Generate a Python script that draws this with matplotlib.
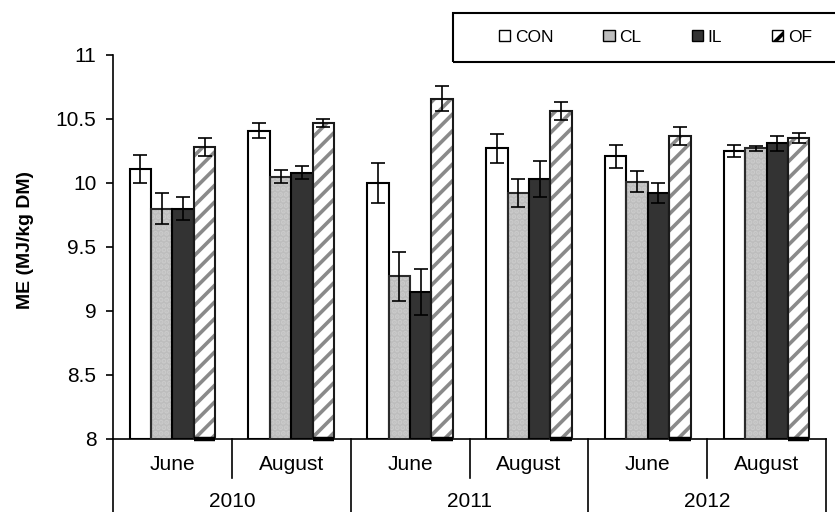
import matplotlib
matplotlib.use("Agg")
import matplotlib.pyplot as plt
from matplotlib.patches import Patch, Rectangle
import numpy as np

plt.rcParams['font.family'] = ['Liberation Sans', 'DejaVu Sans']
plt.rcParams['hatch.linewidth'] = 2.6

months = ['June', 'August', 'June', 'August', 'June', 'August']
years = ['2010', '2011', '2012']
treatments = ['CON', 'CL', 'IL', 'OF']

# ME means and standard errors, per sampling (June/August of each year)
con = [10.11, 10.41, 10.00, 10.27, 10.21, 10.25]
cl = [9.80, 10.05, 9.27, 9.92, 10.01, 10.27]
il = [9.80, 10.08, 9.15, 10.03, 9.92, 10.31]
of = [10.28, 10.47, 10.66, 10.56, 10.37, 10.35]

con_se = [0.11, 0.06, 0.16, 0.11, 0.09, 0.05]
cl_se = [0.12, 0.05, 0.19, 0.11, 0.08, 0.02]
il_se = [0.09, 0.05, 0.18, 0.14, 0.08, 0.06]
of_se = [0.07, 0.03, 0.10, 0.07, 0.07, 0.04]

fig = plt.figure(figsize=(8.35, 5.12), dpi=100)
ax = fig.add_axes([113/835, 1-439/512, 713/835, 384/512])

x = np.arange(len(months))
w = 0.18
base = 8

series = [con, cl, il, of]
errs = [con_se, cl_se, il_se, of_se]
styles = [
    dict(face='white', hatch=None, hcol=None, edge='black'),
    dict(face='#bdbdbd', hatch='...', hcol='#cbcbcb', edge='#2a2a2a'),
    dict(face='#333333', hatch=None, hcol=None, edge='black'),
    dict(face='white', hatch='//', hcol='#8a8a8a', edge='#1a1a1a'),
]

for k, (vals, se, st) in enumerate(zip(series, errs, styles)):
    pos = x + (k - 1.5) * w
    heights = np.array(vals) - base
    if st['hatch']:
        ax.bar(pos, heights, w, bottom=base, color=st['face'],
               edgecolor=st['hcol'], hatch=st['hatch'], linewidth=0, zorder=2)
        ax.bar(pos, heights, w, bottom=base, fill=False,
               edgecolor=st['edge'], linewidth=1.5, zorder=3)
    else:
        ax.bar(pos, heights, w, bottom=base, color=st['face'],
               edgecolor=st['edge'], linewidth=1.5, zorder=3)
    ax.errorbar(pos, vals, yerr=se, fmt='none', ecolor='black',
                elinewidth=1.2, capsize=5, capthick=1.2, zorder=4)
    if k == 3:
        # heavy base under the OF bars
        for p in pos:
            ax.plot([p - w/2, p + w/2], [base, base], color='black',
                    lw=3.2, solid_capstyle='butt', clip_on=False, zorder=5)

ax.set_xlim(-0.5, len(months) - 0.5)
ax.set_ylim(8, 11)
ax.set_yticks(np.arange(8, 11.01, 0.5))
ax.set_yticklabels(['%g' % t for t in np.arange(8, 11.01, 0.5)], fontsize=15)
ax.set_xticks([])
ax.tick_params(axis='y', length=5, width=1.2, pad=7, color='black')
for s in ['top', 'right']:
    ax.spines[s].set_visible(False)
ax.spines['left'].set_linewidth(1.2)
ax.spines['bottom'].set_linewidth(1.2)

ax.set_ylabel('ME (MJ/kg DM)', fontsize=14, fontweight='bold')
ax.yaxis.set_label_coords(-87/713, 0.518)
ax.yaxis.label.set_va('center')

# two-level category axis under the plot
tr = ax.get_xaxis_transform()
for i, m in enumerate(months):
    ax.text(i, -0.066, m, transform=tr, ha='center', va='center', fontsize=15)
for j, yr in enumerate(years):
    ax.text(2*j + 0.5, -0.162, yr, transform=tr, ha='center', va='center',
            fontsize=15)
for i in range(len(months) + 1):
    xs = i - 0.5
    low = -0.19 if i % 2 == 0 else -0.102
    ax.plot([xs, xs], [0, low], transform=tr, color='black', lw=1.2,
            clip_on=False)

# legend box along the top
fig.patches.append(Rectangle((453/835, 1-62/512), 0.5, 49/512,
                             transform=fig.transFigure, fill=False,
                             edgecolor='black', linewidth=1.5))
handles = [Patch(facecolor=st['face'], edgecolor='black', linewidth=1,
                 hatch=st['hatch'] if st['hatch'] == '//' else None)
           for st in styles]
fig.legend(handles, treatments, loc='center left',
           bbox_to_anchor=(499/835, 1-37/512), ncol=4, frameon=False,
           fontsize=12.5, handlelength=0.65, handleheight=0.65,
           handletextpad=0.25, columnspacing=2.9, borderpad=0,
           borderaxespad=0)

fig.savefig('out.png', dpi=100)
